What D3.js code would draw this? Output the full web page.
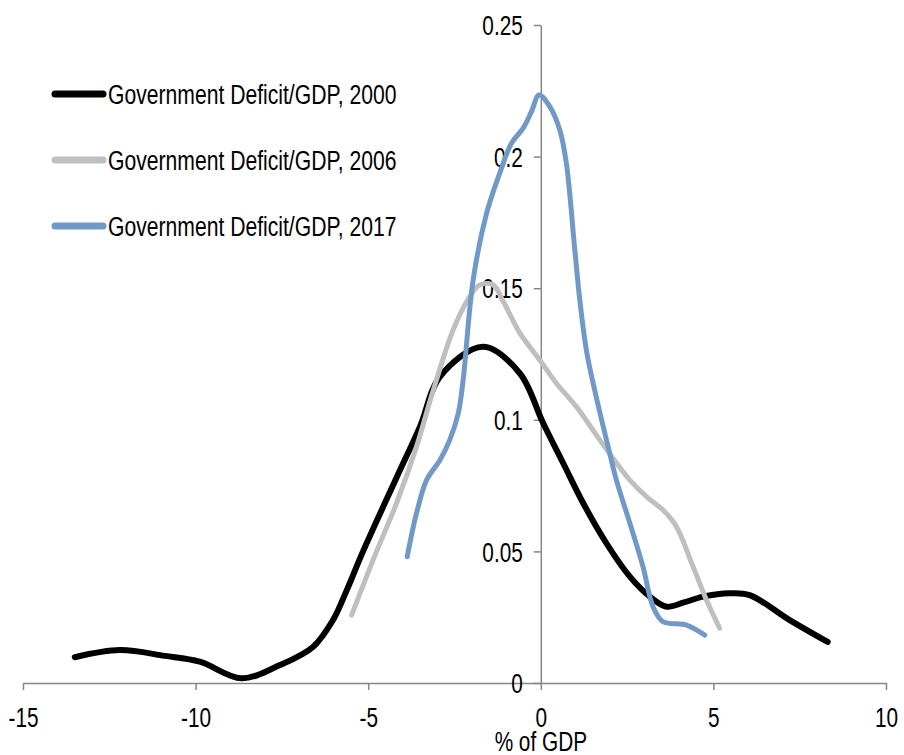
<!DOCTYPE html>
<html><head><meta charset="utf-8">
<script src="https://cdn.jsdelivr.net/npm/d3@7"></script>
<style>
html,body{margin:0;padding:0;background:#fff;}
svg{display:block;font-family:"Liberation Sans",Arial,sans-serif;}
</style></head>
<body>
<svg id="chart" width="904" height="755"></svg>
<script>
// ---- data ----
const xTicks = [-15, -10, -5, 0, 5, 10];
const yTicks = [0, 0.05, 0.1, 0.15, 0.2, 0.25];
const seriesNames = ["Government Deficit/GDP, 2000", "Government Deficit/GDP, 2006", "Government Deficit/GDP, 2017"];
const seriesColors = ["#000000", "#bfbfbf", "#7099c8"];
const xTitle = "% of GDP";

const deficit2000 = [
  [-13.50, 0.0098], [-12.19, 0.0125], [-10.89, 0.0103], [-9.88, 0.0081], [-8.67, 0.0018],
  [-7.56, 0.0068], [-6.60, 0.0137], [-6.02, 0.0239], [-5.62, 0.0353], [-5.15, 0.0500],
  [-4.18, 0.0780], [-3.50, 0.0974], [-2.92, 0.1164], [-1.67, 0.1278], [-0.61, 0.1177],
  [0.07, 0.0987], [0.65, 0.0835], [1.23, 0.0683], [1.90, 0.0531], [2.58, 0.0404],
  [3.16, 0.0328], [3.64, 0.0290], [4.12, 0.0305], [4.70, 0.0328], [5.47, 0.0341],
  [6.05, 0.0334], [7.21, 0.0239], [8.31, 0.0156]
];
const deficit2006 = [
  [-5.48, 0.0258], [-4.86, 0.0467], [-4.18, 0.0683], [-3.60, 0.0898], [-3.12, 0.1110],
  [-2.54, 0.1341], [-2.06, 0.1468], [-1.77, 0.1512], [-1.38, 0.1512], [-1.09, 0.1450],
  [-0.61, 0.1330], [-0.03, 0.1227], [0.45, 0.1139], [1.03, 0.1050], [1.51, 0.0961],
  [2.00, 0.0870], [2.58, 0.0771], [3.06, 0.0708], [3.54, 0.0657],
  [3.93, 0.0594], [4.41, 0.0442], [4.80, 0.0315], [5.18, 0.0208]
];
const deficit2017 = [
  [-3.87, 0.0480], [-3.60, 0.0645], [-3.31, 0.0771], [-2.92, 0.0847], [-2.64, 0.0923],
  [-2.39, 0.1025], [-2.25, 0.1151], [-1.96, 0.1531], [-1.57, 0.1785], [-1.19, 0.1937],
  [-0.85, 0.2051], [-0.51, 0.2108], [-0.27, 0.2171], [-0.05, 0.2234], [0.26, 0.2190],
  [0.55, 0.2101], [0.74, 0.1975], [0.98, 0.1653], [1.13, 0.1455], [1.32, 0.1265],
  [1.56, 0.1113], [1.95, 0.0898], [2.19, 0.0771], [2.58, 0.0607], [2.96, 0.0442],
  [3.25, 0.0290], [3.54, 0.0233], [4.22, 0.0220], [4.75, 0.0182]
];
const allSeries = [deficit2000, deficit2006, deficit2017];
const seriesWidths = [6, 5, 5];

// ---- chart ----
const svg = d3.select("#chart");
const SX = 0.77; // horizontal condensation of text
const x = d3.scaleLinear().domain([-15, 10]).range([23, 886]);
const y = d3.scaleLinear().domain([0, 0.25]).range([683, 25]);
const axisColor = "#868686";

// x axis
const gx = svg.append("g").attr("transform", `translate(0,${y(0)})`)
  .call(d3.axisBottom(x).tickValues(xTicks).tickSize(7).tickSizeOuter(0).tickPadding(18)
    .tickFormat(d => String(d)));
gx.select(".domain").attr("stroke", axisColor).attr("stroke-width", 1.5);
gx.selectAll(".tick line").attr("stroke", axisColor).attr("stroke-width", 1.5);
gx.selectAll(".tick text").attr("fill", "#000").attr("font-size", 27)
  .attr("font-family", "Liberation Sans, Arial, sans-serif")
  .attr("transform", `scale(${SX},1)`);

// y axis
const gy = svg.append("g").attr("transform", `translate(${x(0)},0)`)
  .call(d3.axisLeft(y).tickValues(yTicks).tickSize(7).tickSizeOuter(0)
    .tickFormat(d => String(+d.toFixed(2))));
gy.select(".domain").attr("stroke", axisColor).attr("stroke-width", 1.5);
gy.selectAll(".tick line").attr("stroke", axisColor).attr("stroke-width", 1.5);
gy.selectAll(".tick text").attr("fill", "#000").attr("font-size", 27)
  .attr("font-family", "Liberation Sans, Arial, sans-serif")
  .attr("x", -18 / SX).attr("dy", "0.36em")
  .attr("transform", `scale(${SX},1)`);

// x title
svg.append("text").attr("transform", `translate(${x(0)},751) scale(${SX},1)`)
  .attr("text-anchor", "middle")
  .attr("font-size", 27).text(xTitle);

// lines
const line = d3.line().x(d => x(d[0])).y(d => y(d[1])).curve(d3.curveCatmullRom.alpha(0.5));
allSeries.forEach((s, i) => {
  svg.append("path").datum(s).attr("d", line)
    .attr("fill", "none").attr("stroke", seriesColors[i])
    .attr("stroke-width", seriesWidths[i]).attr("stroke-linecap", "round")
    .attr("stroke-linejoin", "round");
});

// legend
const lg = svg.append("g");
seriesNames.forEach((n, i) => {
  const yy = 94 + i * 66;
  lg.append("line").attr("x1", 55).attr("x2", 103).attr("y1", yy).attr("y2", yy)
    .attr("stroke", seriesColors[i]).attr("stroke-width", 7).attr("stroke-linecap", "round");
  lg.append("text").attr("transform", `translate(108,${yy}) scale(0.755,1)`)
    .attr("dy", "0.36em").attr("font-size", 28).attr("fill", "#000").text(n);
});
</script>
</body></html>
